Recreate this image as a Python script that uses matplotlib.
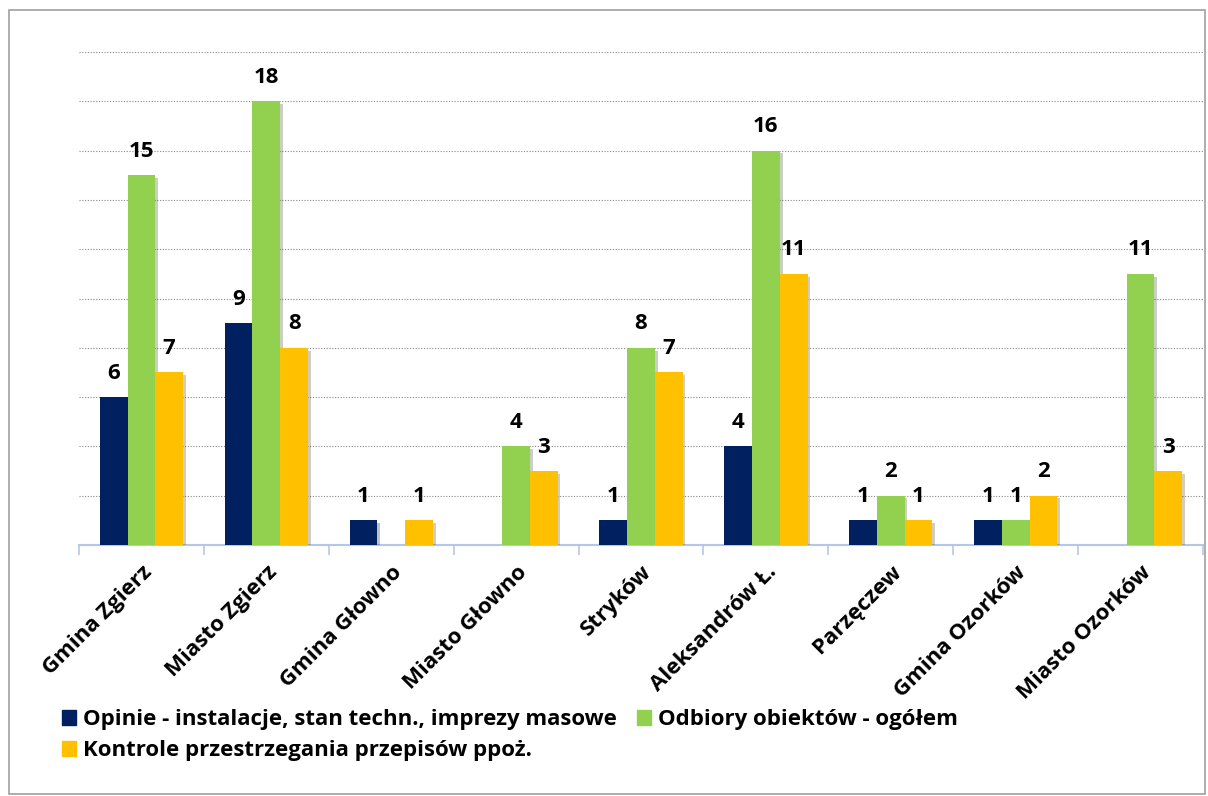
import numpy as np
import matplotlib
matplotlib.use("Agg")
import matplotlib.pyplot as plt
import matplotlib.patheffects as pe
from matplotlib.patches import Rectangle, Patch

categories = ['Gmina Zgierz', 'Miasto Zgierz', 'Gmina Głowno', 'Miasto Głowno', 'Stryków',
              'Aleksandrów Ł.', 'Parzęczew', 'Gmina Ozorków', 'Miasto Ozorków']
opinie = [6, 9, 1, np.nan, 1, 4, 1, 1, np.nan]
odbiory = [15, 18, np.nan, 4, 8, 16, 2, 1, 11]
kontrole = [7, 8, 1, 3, 7, 11, 1, 2, 3]

series_names = ['Opinie - instalacje, stan techn., imprezy masowe',
                'Odbiory obiektów - ogółem',
                'Kontrole przestrzegania przepisów ppoż.']
colors = ['#002060', '#92D050', '#FFC000']

plt.rcParams['font.family'] = ['Open Sans', 'DejaVu Sans']

fig = plt.figure(figsize=(12.08, 7.96), dpi=100)
fig.patches.append(Rectangle((0.0075, 0.003), 0.99, 0.984, transform=fig.transFigure,
                             fill=False, edgecolor='#a0a0a0', linewidth=1.2))
ax = fig.add_axes([0.0654, 0.3153, 0.9305, 0.6194])

x = np.arange(len(categories))
w = 0.222
shadow = [pe.SimplePatchShadow(offset=(2, -2), alpha=0.25), pe.Normal()]
for i, (vals, name, c) in enumerate(zip([opinie, odbiory, kontrole], series_names, colors)):
    bars = ax.bar(x + (i - 1) * w, vals, w, color=c, zorder=3)
    for b, v in zip(bars, vals):
        b.set_path_effects(shadow)
        if not np.isnan(v):
            ax.text(b.get_x() + b.get_width() / 2, v + 0.55, f'{int(v)}', ha='center', va='bottom',
                    fontsize=16, fontweight='bold', color='black')

ax.set_ylim(0, 20)
ax.set_xlim(-0.5, len(categories) - 0.5)
ax.set_yticks(np.arange(2, 21, 2))
ax.yaxis.grid(True, linestyle=(0, (1, 1.5)), color='#888888', linewidth=0.8, zorder=0)
ax.tick_params(axis='y', left=False, labelleft=False)

ax.set_xticks(x)
ax.set_xticklabels(categories, rotation=45, ha='right', rotation_mode='anchor',
                   fontsize=16, fontweight='bold')
ax.tick_params(axis='x', which='major', length=0, pad=12)
ax.set_xticks(np.arange(-0.5, len(categories)), minor=True)
ax.tick_params(axis='x', which='minor', length=7, color='#B4C7E7', width=1.2)

for s in ['top', 'right', 'left']:
    ax.spines[s].set_visible(False)
ax.spines['bottom'].set_color('#B4C7E7')
ax.spines['bottom'].set_linewidth(1.5)

proxies = [Patch(color=c) for c in colors]
fig.legend([proxies[0], proxies[2], proxies[1]],
           [series_names[0], series_names[2], series_names[1]],
           ncol=2, loc='upper left', bbox_to_anchor=(0.044, 0.12),
           frameon=False, prop={'weight': 'bold', 'size': 16},
           handlelength=0.65, handleheight=0.65, handletextpad=0.3,
           columnspacing=0.9, labelspacing=0.45, borderaxespad=0)

fig.savefig('out.png', dpi=100)
